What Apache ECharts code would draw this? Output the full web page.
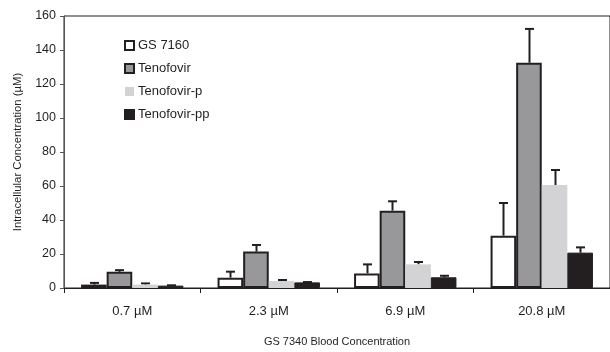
<!DOCTYPE html>
<html><head><meta charset="utf-8">
<script src="https://cdn.jsdelivr.net/npm/echarts@6/dist/echarts.min.js"></script>
<style>html,body{margin:0;padding:0;background:#fff}#c{width:610px;height:352px}</style>
</head><body><div id="c"></div>
<script>
var categories = ['0.7 µM', '2.3 µM', '6.9 µM', '20.8 µM'];
var seriesNames = ['GS 7160', 'Tenofovir', 'Tenofovir-p', 'Tenofovir-pp'];
var gs7160 = [2, 6.1, 8.6, 30.8];
var gs7160Err = [3, 9.6, 13.9, 50];
var tenofovir = [9.5, 21.4, 45.5, 132.5];
var tenofovirErr = [10.5, 25.3, 51, 152.4];
var tenofovirP = [2, 4.1, 13.9, 60.6];
var tenofovirPErr = [2.7, 4.7, 15.3, 69.4];
var tenofovirPP = [1.4, 3.3, 6.3, 20.8];
var tenofovirPPErr = [1.6, 3.5, 7.2, 23.9];
var yTicks = [0, 20, 40, 60, 80, 100, 120, 140, 160];

var values = [gs7160, tenofovir, tenofovirP, tenofovirPP];
var errs = [gs7160Err, tenofovirErr, tenofovirPErr, tenofovirPPErr];
var fills = ['#ffffff', '#98989b', '#d3d3d5', '#231f20'];
var borders = ['#231f20', '#231f20', '#d3d3d5', '#231f20'];
var bw = [2, 2, 0, 1];
var FONT = 'Liberation Sans, Arial, sans-serif';

var chart = echarts.init(document.getElementById('c'), null, {renderer: 'canvas'});
var series = [];
values.forEach(function (v, i) {
  series.push({
    name: seriesNames[i], type: 'bar', data: v,
    barGap: 0, barCategoryGap: '25%',
    itemStyle: {color: fills[i], borderColor: borders[i], borderWidth: bw[i]},
    z: 2
  });
});
errs.forEach(function (e, i) {
  series.push({
    type: 'custom', silent: true, z: 1,
    data: e.map(function (top, k) { return [k, values[i][k], top]; }),
    renderItem: function (params, api) {
      var band = api.size([1, 0])[0];
      var barW = band * 0.75 / 4;
      var c = api.coord([api.value(0), api.value(1)]);
      var t = api.coord([api.value(0), api.value(2)]);
      var x = Math.round(c[0] + (i - 1.5) * barW) + 0.5;
      var style = {stroke: '#231f20', lineWidth: 2};
      return {type: 'group', children: [
        {type: 'line', shape: {x1: x, y1: c[1], x2: x, y2: t[1]}, style: style},
        {type: 'line', shape: {x1: x - 4.5, y1: t[1], x2: x + 4.5, y2: t[1]}, style: style}
      ]};
    }
  });
});

chart.setOption({
  animation: false,
  textStyle: {fontFamily: FONT},
  grid: {left: 64, top: 16, width: 555, height: 272, show: true, borderColor: '#231f20', borderWidth: 1, backgroundColor: 'transparent'},
  legend: {
    orient: 'vertical', left: 119, top: 34, itemWidth: 9, itemHeight: 9, itemGap: 10,
    textStyle: {fontFamily: FONT, fontSize: 13, color: '#231f20', padding: [0, 0, 0, -1]},
    data: seriesNames.map(function (n, i) {
      return {name: n, icon: 'rect', itemStyle: {color: fills[i], borderColor: borders[i], borderWidth: i === 2 ? 0 : 2}};
    })
  },
  xAxis: {
    type: 'category', data: categories,
    axisLine: {lineStyle: {color: '#231f20', width: 1}},
    axisTick: {show: true, length: 5, lineStyle: {color: '#231f20'}},
    axisLabel: {fontFamily: FONT, fontSize: 13, color: '#231f20', margin: 17},
    name: 'GS 7340 Blood Concentration', nameLocation: 'middle', nameGap: 48,
    nameTextStyle: {fontFamily: FONT, fontSize: 11, color: '#231f20'}
  },
  yAxis: {
    type: 'value', min: 0, max: yTicks[yTicks.length - 1], interval: yTicks[1] - yTicks[0],
    axisLine: {show: true, lineStyle: {color: '#555', width: 1}},
    axisTick: {show: true, length: 4, lineStyle: {color: '#555'}},
    splitLine: {show: false},
    axisLabel: {fontFamily: FONT, fontSize: 12.5, color: '#231f20', margin: 8},
    name: 'Intracellular Concentration (µM)', nameLocation: 'middle', nameGap: 41,
    nameTextStyle: {fontFamily: FONT, fontSize: 11.3, color: '#231f20'}
  },
  series: series
});
</script></body></html>
